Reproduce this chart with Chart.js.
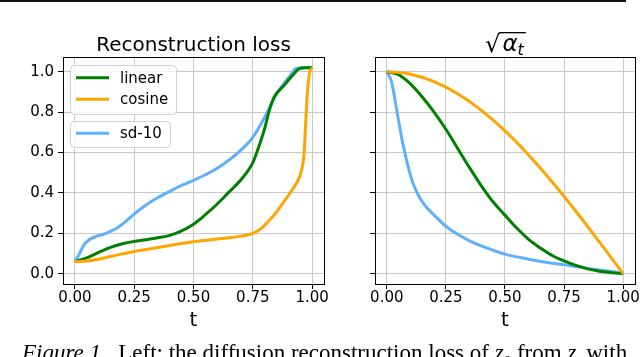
<!DOCTYPE html>
<html><head><meta charset="utf-8">
<script src="https://cdn.jsdelivr.net/npm/chart.js@4/dist/chart.umd.min.js"></script>
<style>
html,body{margin:0;padding:0;background:#fff;width:640px;height:357px;overflow:hidden;}
canvas{position:absolute;left:0;top:0;}
#rule{position:absolute;left:0;top:0;width:626px;height:2px;background:#111;}
#cap{position:absolute;left:22px;top:340px;font:23px 'Liberation Serif',serif;white-space:nowrap;color:#000;line-height:26px;}
#cap sub{font-size:15px;line-height:0;}
</style></head><body>
<div id="rule"></div>
<canvas id="c1" width="640" height="357"></canvas>
<canvas id="c2" width="640" height="357"></canvas>
<div id="cap"><i>Figure 1.</i>&nbsp; Left: the diffusion reconstruction loss of <i>z</i><sub>0</sub> from <i>z</i><sub><i>t</i></sub> with</div>
<script>
// ---- data ----
const seriesNames = ['linear', 'cosine', 'sd-10'];
const seriesColors = ['#008000', '#ffa500', '#5fb0ff'];
const xTickValues = [0, 0.25, 0.5, 0.75, 1.0];
const yTickValues = [0, 0.2, 0.4, 0.6, 0.8, 1.0];

// Left: reconstruction loss
const lossLinearT = [0, 0.05, 0.1, 0.15, 0.2, 0.25, 0.3, 0.35, 0.4, 0.45, 0.5, 0.55, 0.6, 0.65, 0.7, 0.75, 0.78, 0.8, 0.82, 0.84, 0.88, 0.92, 0.945, 0.97, 1.0];
const lossLinearY = [0.06, 0.078, 0.105, 0.13, 0.148, 0.16, 0.168, 0.178, 0.19, 0.212, 0.245, 0.292, 0.345, 0.405, 0.465, 0.55, 0.645, 0.72, 0.81, 0.875, 0.93, 0.985, 1.015, 1.02, 1.02];
const lossCosineT = [0, 0.05, 0.1, 0.15, 0.2, 0.25, 0.3, 0.35, 0.4, 0.45, 0.5, 0.55, 0.6, 0.65, 0.7, 0.73, 0.76, 0.79, 0.82, 0.85, 0.88, 0.91, 0.93, 0.95, 0.96, 0.965, 0.97, 0.975, 0.98, 0.99, 1.0];
const lossCosineY = [0.06, 0.063, 0.072, 0.085, 0.098, 0.11, 0.12, 0.13, 0.14, 0.15, 0.158, 0.165, 0.172, 0.178, 0.186, 0.193, 0.205, 0.228, 0.265, 0.305, 0.355, 0.405, 0.44, 0.49, 0.54, 0.58, 0.68, 0.8, 0.9, 1.0, 1.02];
const lossSdT = [0, 0.02, 0.035, 0.06, 0.09, 0.12, 0.15, 0.18, 0.2, 0.225, 0.25, 0.3, 0.35, 0.4, 0.45, 0.5, 0.55, 0.6, 0.65, 0.7, 0.75, 0.8, 0.85, 0.88, 0.91, 0.93, 0.96, 1.0];
const lossSdY = [0.06, 0.1, 0.137, 0.168, 0.185, 0.195, 0.21, 0.228, 0.245, 0.27, 0.295, 0.34, 0.377, 0.408, 0.437, 0.462, 0.49, 0.522, 0.563, 0.612, 0.675, 0.775, 0.89, 0.94, 0.985, 1.015, 1.02, 1.02];

// Right: sqrt(alpha_t)
const alphaLinearT = [0, 0.05, 0.1, 0.15, 0.2, 0.25, 0.3, 0.35, 0.4, 0.45, 0.5, 0.55, 0.6, 0.65, 0.7, 0.75, 0.8, 0.85, 0.9, 0.95, 1.0];
const alphaLinearY = [1.0, 0.985, 0.94, 0.875, 0.8, 0.715, 0.62, 0.525, 0.435, 0.355, 0.29, 0.226, 0.17, 0.127, 0.09, 0.063, 0.041, 0.024, 0.012, 0.005, 0.0];
const alphaCosineT = [0, 0.1, 0.2, 0.3, 0.4, 0.5, 0.6, 0.7, 0.8, 0.9, 1.0];
const alphaCosineY = [1.0, 0.988, 0.951, 0.891, 0.809, 0.707, 0.588, 0.454, 0.309, 0.156, 0.0];
const alphaSdT = [0, 0.02, 0.045, 0.065, 0.088, 0.11, 0.135, 0.16, 0.2, 0.25, 0.3, 0.35, 0.4, 0.5, 0.6, 0.7, 0.75, 0.8, 0.9, 1.0];
const alphaSdY = [1.0, 0.95, 0.79, 0.66, 0.54, 0.45, 0.385, 0.34, 0.29, 0.235, 0.195, 0.163, 0.138, 0.097, 0.072, 0.052, 0.045, 0.035, 0.018, 0.003];

// ---- drawing ----
const FONT = "'DejaVu Sans', sans-serif";
function pts(ts, ys) { return ts.map((t, i) => ({ x: t, y: ys[i] })); }
function ds(i, ts, ys, order) {
  return { label: seriesNames[i], data: pts(ts, ys), borderColor: seriesColors[i], backgroundColor: seriesColors[i],
    borderWidth: 3, pointRadius: 0, cubicInterpolationMode: 'monotone', fill: false, order: order };
}

const framePlugin = {
  id: 'frame',
  afterDatasetsDraw(chart) {
    const a = chart.chartArea, ctx = chart.ctx;
    ctx.save(); ctx.strokeStyle = '#000'; ctx.lineWidth = 1;
    ctx.strokeRect(Math.round(a.left) + 0.5, Math.round(a.top) + 0.5, Math.round(a.right - a.left), Math.round(a.bottom - a.top));
    ctx.restore();
  },
  afterDraw(chart) {
    const a = chart.chartArea, ctx = chart.ctx, cx = (a.left + a.right) / 2;
    ctx.save(); ctx.fillStyle = '#000';
    ctx.font = '20px ' + FONT; ctx.textAlign = 'center'; ctx.textBaseline = 'alphabetic';
    ctx.fillText('t', cx, 326);
    const o = chart.options.plugins.frame || {};
    if (o.title === 'loss') {
      ctx.fillText('Reconstruction loss', cx, 51);
    } else if (o.title === 'alpha') {
      ctx.textAlign = 'left';
      const f1 = '24px ' + FONT, f2 = 'italic 23px ' + FONT, f3 = 'italic 16px ' + FONT;
      ctx.font = f1; const w1 = ctx.measureText('√').width;
      ctx.font = f2; const w2 = ctx.measureText('α').width;
      ctx.font = f3; const w3 = ctx.measureText('t').width;
      const gap = 2;
      const total = w1 + gap + w2 + w3 + 1;
      const x0 = cx - total / 2, base = 51;
      ctx.font = f1; ctx.fillText('√', x0, base + 1);
      ctx.font = f2; ctx.fillText('α', x0 + w1 + gap, base);
      ctx.font = f3; ctx.fillText('t', x0 + w1 + gap + w2, base + 4);
      ctx.fillRect(x0 + w1 - 1, 32, w2 + w3 + gap + 3, 1.3);
    }
    if (o.legend) {
      const L = a.left, T = a.top;
      function box(x, y, w, h) {
        ctx.beginPath();
        ctx.roundRect(x + 0.5, y + 0.5, w, h, 4);
        ctx.fillStyle = 'rgba(255,255,255,0.8)'; ctx.fill();
        ctx.strokeStyle = '#d0d0d0'; ctx.lineWidth = 1; ctx.stroke();
      }
      box(L + 7, T + 8, 106, 49);
      box(L + 7, T + 64, 100, 26);
      const rows = [[0, 20.7], [1, 42.3], [2, 76.3]];
      ctx.font = '15px ' + FONT; ctx.textBaseline = 'middle'; ctx.textAlign = 'left';
      rows.forEach(([i, dy]) => {
        ctx.strokeStyle = seriesColors[i]; ctx.lineWidth = 3;
        ctx.beginPath(); ctx.moveTo(L + 13, T + dy); ctx.lineTo(L + 46, T + dy); ctx.stroke();
        ctx.fillStyle = '#000'; ctx.fillText(seriesNames[i], L + 57, T + dy + 1);
      });
    }
    ctx.restore();
  }
};

function makeChart(id, datasets, padLeft, padRight, yWidth, showYLabels, frameOpts) {
  return new Chart(document.getElementById(id), {
    type: 'line',
    data: { datasets: datasets },
    plugins: [framePlugin],
    options: {
      responsive: false, animation: false, devicePixelRatio: 1,
      layout: { padding: { left: padLeft, right: padRight, top: 57, bottom: 27 } },
      plugins: { legend: { display: false }, tooltip: { enabled: false }, title: { display: false }, frame: frameOpts },
      scales: {
        x: {
          type: 'linear', min: -0.05, max: 1.05,
          afterBuildTicks: s => { s.ticks = xTickValues.map(v => ({ value: v })); },
          afterFit: s => { s.height = 46; },
          grid: { color: '#c8c8c8', lineWidth: 1, drawTicks: true, tickLength: 5, tickColor: '#000', tickWidth: 1 },
          border: { display: false },
          ticks: { padding: 0, color: '#000', font: { family: FONT, size: 15 }, maxRotation: 0, callback: v => Number(v).toFixed(2) }
        },
        y: {
          type: 'linear', min: -0.051, max: 1.073,
          afterBuildTicks: s => { s.ticks = yTickValues.map(v => ({ value: v })); },
          afterFit: s => { s.width = yWidth; },
          grid: { color: '#c8c8c8', lineWidth: 1, drawTicks: true, tickLength: 5, tickColor: '#000', tickWidth: 1 },
          border: { display: false },
          ticks: { display: showYLabels, padding: 4, color: '#000', font: { family: FONT, size: 15 }, callback: v => Number(v).toFixed(1) }
        }
      }
    }
  });
}

makeChart('c1', [
  ds(0, lossLinearT, lossLinearY, 1),
  ds(1, lossCosineT, lossCosineY, 0),
  ds(2, lossSdT, lossSdY, 2)
], 0, 316, 63, true, { title: 'loss', legend: true });

makeChart('c2', [
  ds(0, alphaLinearT, alphaLinearY, 1),
  ds(1, alphaCosineT, alphaCosineY, 0),
  ds(2, alphaSdT, alphaSdY, 2)
], 365, 4, 10, false, { title: 'alpha', legend: false });
</script>
</body></html>
